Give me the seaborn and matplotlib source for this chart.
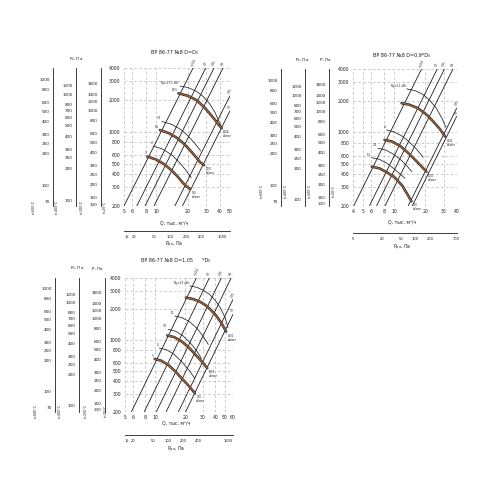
import matplotlib
matplotlib.use("Agg")
import matplotlib.pyplot as plt
import matplotlib.ticker as mticker
import pandas as pd
import seaborn as sns

# ---------------- values ----------------
P_TICKS = [200, 300, 400, 500, 600, 800, 1000, 2000, 3000, 4000]
P_LIM = (200, 4000)

# side pressure scales (t=600, 400, 200 C), ratio to the main P scale
SCALE_FACTORS = [0.32, 0.44, 0.625]
SCALE_TICKS = [
    [70, 100, 200, 250, 300, 400, 500, 600, 800, 1000],
    [100, 200, 250, 300, 400, 500, 600, 700, 800, 1000, 1200],
    [130, 150, 200, 250, 300, 400, 500, 600, 800, 1000, 1200, 1400, 1800],
]
SCALE_MINOR = [
    [80, 90, 120, 140, 160, 180, 350, 450, 700, 900],
    [90, 120, 140, 160, 180, 350, 450, 900, 1100, 1400, 1600],
    [140, 170, 180, 350, 450, 700, 900, 1100, 1300, 1600, 2000, 2200],
]
SCALE_T_LABELS = ["t=600°C", "t=400°C", "t=200°C", "t=20°C"]

# panel 1: D = D0
P1_TITLE = "ВР 86-77 №8 D=D₀"
P1_Q_LIM = (5, 50)
P1_Q_TICKS = [5, 6, 8, 10, 20, 30, 40, 50]
P1_PD_LIM = (13, 1400)
P1_PD_TICKS = [15, 20, 50, 100, 200, 400, 1000]
P1_RAY_Q0 = [5.0, 6.6, 7.9, 9.6, 15.1, 17.8]
P1_RAY_Q1 = [22.4, 29.5, 35.3, 42.9, 50, 50]
P1_RAY_P1 = [4000, 4000, 4000, 4000, 2190, 1580]
P1_RAY_LABELS = ["η=0,6", "0,7", "0,75", "0,8", "0,75", "0,7"]
P1_FAN_Q = [[16.3, 20, 24, 28, 32, 36, 39, 41.8],
            [10.9, 13.3, 16, 18.7, 21.3, 24, 26, 28.5],
            [8.3, 10, 12, 14, 16, 18, 19.5, 21]]
P1_FAN_P = [[2310, 2190, 2000, 1740, 1500, 1300, 1170, 1080],
            [1040, 970, 870, 760, 660, 575, 520, 485],
            [585, 550, 495, 435, 380, 330, 305, 290]]
P1_FAN_LABELS = ["18,5", "5,5", "3"]
P1_RPM = ["1500", "1000", "750"]
P1_THIN_Q = [[16.9, 20, 24, 28, 32, 36, 41],
             [11.4, 14, 17, 20, 23, 26.5],
             [9.4, 11.5, 14, 16.5, 19, 21.5]]
P1_THIN_P = [[2700, 2620, 2420, 2150, 1850, 1530, 1150],
             [1250, 1180, 1060, 920, 790, 660],
             [735, 690, 610, 520, 440, 370]]
P1_THIN_LABELS = ["Nу=17,5 кВт", "7,5", "4"]

# panel 2: D = 0,9*D0
P2_TITLE = "ВР 86-77 №8 D=0,9*D₀"
P2_Q_LIM = (4, 40)
P2_Q_TICKS = [4, 5, 6, 8, 10, 20, 30, 40]
P2_PD_LIM = (5, 720)
P2_PD_TICKS = [5, 20, 50, 100, 200, 700]
P2_RAY_Q0 = [4.1, 5.8, 6.8, 8.2, 13.7, 15.0]
P2_RAY_Q1 = [18.3, 25.9, 30.4, 36.7, 40, 40]
P2_RAY_P1 = [4000, 4000, 4000, 4000, 1705, 1422]
P2_RAY_LABELS = ["η=0,6", "0,7", "0,75", "0,8", "0,75", "0,7"]
P2_FAN_Q = [[11.8, 14, 17, 20.5, 24, 27.5, 30.9],
            [8.1, 9.5, 11.5, 13.6, 16, 18.5, 20.5],
            [6.1, 7.2, 8.6, 10.2, 12, 13.5, 14.7]]
P2_FAN_P = [[1900, 1840, 1700, 1480, 1260, 1080, 915],
            [850, 820, 740, 640, 545, 470, 422],
            [471, 455, 415, 370, 310, 255, 220]]
P2_FAN_LABELS = ["", "", ""]
P2_RPM = ["1500", "1000", "750"]
P2_THIN_Q = [[13.2, 16, 19, 22, 25.5, 29, 31.5],
             [8.5, 10, 12, 14, 16.5, 19],
             [7.0, 8.3, 10, 11.8, 13.5, 14.8],
             [6.1, 7.2, 8.6, 10, 11.5, 12.7]]
P2_THIN_P = [[2600, 2500, 2300, 2020, 1700, 1350, 1120],
             [1055, 1010, 920, 810, 690, 580],
             [706, 680, 615, 540, 470, 422],
             [574, 555, 505, 450, 400, 365]]
P2_THIN_LABELS = ["Nу=11 кВт", "4", "2,2", "1,5"]

# panel 3: D = 1,05*D0
P3_TITLE = "ВР 86-77 №8 D=1,05      *D₀"
P3_Q_LIM = (5, 60)
P3_Q_TICKS = [5, 6, 8, 10, 20, 30, 40, 50, 60]
P3_PD_LIM = (13.8, 2000)
P3_PD_TICKS = [15, 20, 50, 100, 200, 400, 1600]
P3_RAY_Q0 = [5.8, 7.8, 10.3, 12.9, 17.1, 20.2]
P3_RAY_Q1 = [25.9, 34.9, 46, 57.7, 60, 60]
P3_RAY_P1 = [4000, 4000, 4000, 4000, 2460, 1765]
P3_RAY_LABELS = ["η=0,6", "0,7", "0,75", "0,8", "0,75", "0,7"]
P3_FAN_Q = [[20.3, 24, 28, 32, 36, 41, 46, 51.3],
            [13.2, 15.5, 18.5, 22, 25.5, 29.5, 33.2],
            [9.9, 11.5, 13.5, 16, 18.5, 21.5, 25]]
P3_FAN_P = [[2565, 2480, 2340, 2160, 1950, 1700, 1450, 1200],
            [1100, 1060, 960, 830, 710, 610, 530],
            [650, 625, 570, 490, 420, 360, 302]]
P3_FAN_LABELS = ["", "", "3"]
P3_RPM = ["1500", "1000", "750"]
P3_THIN_Q = [[22.2, 26, 30, 35, 40, 45, 50, 53.5],
             [15.7, 18.5, 22, 26, 30, 34],
             [13.5, 16, 19, 22.5, 26, 29],
             [11, 13, 15.5, 18.5, 22, 25]]
P3_THIN_P = [[3330, 3230, 3040, 2750, 2400, 2030, 1640, 1310],
             [1700, 1640, 1500, 1300, 1090, 900],
             [1260, 1210, 1090, 930, 780, 660],
             [830, 800, 720, 610, 500, 420]]
P3_THIN_LABELS = ["Nу=22 кВт", "11", "7,5", "4"]

# ---------------- drawing ----------------
sns.set_theme(style="white")
plt.rcParams["font.family"] = ["DejaVu Sans"]

W, H = 500, 500
BROWN = "#a0643c"
INK = "#1e1e1e"


def box(l, t, r, b):
    return [l / W, 1 - b / H, (r - l) / W, (b - t) / H]


def ftext(fig, x, y, s, **kw):
    fig.text(x / W, 1 - y / H, s, **kw)


def curves_df(qs, ps):
    rows = []
    for i, (q, p) in enumerate(zip(qs, ps)):
        rows += [{"curve": i, "Q": a, "P": b} for a, b in zip(q, p)]
    return pd.DataFrame(rows)


def draw_lines(ax, df, color, lw):
    sns.lineplot(data=df, x="Q", y="P", units="curve", estimator=None,
                 sort=False, color=color, linewidth=lw, ax=ax, legend=False)


def side_scale(fig, x, top, bottom, lims, ticks, minor):
    sax = fig.add_axes(box(x, top, x + 0.3, bottom))
    sax.set_yscale("log")
    sax.set_ylim(lims)
    for k in ["top", "right", "bottom"]:
        sax.spines[k].set_visible(False)
    sax.spines["left"].set_linewidth(0.6)
    sax.spines["left"].set_color(INK)
    sax.set_xticks([])
    sax.set_yticks(ticks)
    sax.set_yticklabels([str(v) for v in ticks])
    sax.set_yticks(minor, minor=True)
    sax.yaxis.set_minor_formatter(mticker.NullFormatter())
    sax.tick_params(which="major", direction="inout", length=3, width=0.5,
                    labelsize=3, pad=1, colors=INK)
    sax.tick_params(which="minor", direction="inout", length=2, width=0.4, colors=INK)
    sax.patch.set_visible(False)


def pd_scale(fig, l, r, y, lims, ticks):
    dax = fig.add_axes(box(l, y - 0.3, r, y))
    dax.set_xscale("log")
    dax.set_xlim(lims)
    for k in ["top", "right", "left"]:
        dax.spines[k].set_visible(False)
    dax.spines["bottom"].set_linewidth(0.6)
    dax.spines["bottom"].set_color(INK)
    dax.set_yticks([])
    dax.set_xticks(ticks)
    dax.set_xticklabels([str(v) for v in ticks])
    dax.xaxis.set_minor_locator(mticker.LogLocator(base=10, subs=range(1, 10)))
    dax.xaxis.set_minor_formatter(mticker.NullFormatter())
    dax.tick_params(which="major", direction="inout", length=3.5, width=0.5,
                    labelsize=2.6, pad=1, colors=INK)
    dax.tick_params(which="minor", direction="inout", length=2, width=0.4, colors=INK)
    dax.patch.set_visible(False)


def draw_panel(fig, sp):
    l, t, r, b = sp["main"]
    ax = fig.add_axes(box(l, t, r, b))
    ax.set_xscale("log")
    ax.set_yscale("log")

    rq0, rq1, rp1, rlab = sp["rays"]
    ray_q = [[a, c] for a, c in zip(rq0, rq1)]
    ray_p = [[P_LIM[0], c] for c in rp1]
    draw_lines(ax, curves_df(ray_q, ray_p), INK, 0.6)

    tq, tp, tlab = sp["thin"]
    draw_lines(ax, curves_df(tq, tp), INK, 0.55)

    fq, fp, flab, rpm = sp["fan"]
    fan = curves_df(fq, fp)
    draw_lines(ax, fan, "#1a1a1a", 1.8)
    draw_lines(ax, fan, BROWN, 1.0)

    ax.set_xlim(sp["qlim"])
    ax.set_ylim(P_LIM)
    ax.set_xlabel("")
    ax.set_ylabel("")
    for s in ax.spines.values():
        s.set_visible(False)
    ax.set_xticks(sp["qticks"])
    ax.set_xticklabels([str(v) for v in sp["qticks"]])
    ax.set_yticks(P_TICKS)
    ax.set_yticklabels([str(v) for v in P_TICKS])
    ax.xaxis.set_minor_locator(mticker.NullLocator())
    ax.yaxis.set_minor_locator(mticker.NullLocator())
    ax.tick_params(which="major", labelsize=3.3, length=1.5, width=0.4,
                   color="#777777", labelcolor=INK, pad=1)
    ax.grid(True, which="major", color="#b8b8b8", linewidth=0.5, linestyle=(0, (4, 3)))
    ax.set_axisbelow(True)

    # efficiency ray labels
    for q, p, s in zip(rq1, rp1, rlab):
        ax.annotate(s, xy=(q, p), xytext=(0.5, 1), textcoords="offset points",
                    rotation=63, rotation_mode="anchor", ha="left", va="bottom",
                    fontsize=2, color=INK, annotation_clip=False)
    # power labels at curve starts
    for q, p, s in zip(tq, tp, tlab):
        ax.annotate(s, xy=(q[0], p[0]), xytext=(-0.5, 0.8), textcoords="offset points",
                    ha="right", va="bottom", fontsize=2, color=INK)
    for q, p, s in zip(fq, fp, flab):
        if s:
            ax.annotate(s, xy=(q[0], p[0]), xytext=(-0.5, 0.8), textcoords="offset points",
                        ha="right", va="bottom", fontsize=2, color=INK)
    # rpm labels at curve ends
    for q, p, s in zip(fq, fp, rpm):
        ax.annotate(s + "\nоб/мин", xy=(q[-1], p[-1]), xytext=(1, -1.5),
                    textcoords="offset points", ha="left", va="top", fontsize=1.8,
                    linespacing=1.0, color=INK, annotation_clip=False)

    # side scales
    for x, f, ticks, minor in zip(sp["scales_x"], SCALE_FACTORS, SCALE_TICKS, SCALE_MINOR):
        side_scale(fig, x, t, b, (P_LIM[0] * f, P_LIM[1] * f), ticks, minor)
    for x, s in zip(list(sp["scales_x"]) + [l], SCALE_T_LABELS):
        ftext(fig, x - 19, sp["tlab_y"], s, rotation=90, ha="center", va="center",
              fontsize=2.3, color=INK)
    for x, s in sp["headers"]:
        ftext(fig, x, t - 9, s, ha="center", va="center", fontsize=3, color=INK)

    # dynamic pressure scale
    pdlim, pdticks, pdy = sp["pd"]
    pd_scale(fig, l, r, pdy, pdlim, pdticks)

    cx = (l + r) / 2 - 3
    ftext(fig, cx, sp["title_y"], sp["title"], ha="center", va="center",
          fontsize=3.5, color=INK)
    ftext(fig, cx, sp["qlabel_y"], "Q, тыс. м³/ч", ha="center", va="center",
          fontsize=3.3, color=INK)
    ftext(fig, cx, sp["pdlabel_y"], "P$_\\mathregular{дн}$, Па", ha="center",
          va="center", fontsize=3.3, color=INK)


PANELS = [
    dict(main=(124, 68, 230, 206), qlim=P1_Q_LIM, qticks=P1_Q_TICKS,
         rays=(P1_RAY_Q0, P1_RAY_Q1, P1_RAY_P1, P1_RAY_LABELS),
         thin=(P1_THIN_Q, P1_THIN_P, P1_THIN_LABELS),
         fan=(P1_FAN_Q, P1_FAN_P, P1_FAN_LABELS, P1_RPM),
         scales_x=(53, 76, 101), tlab_y=207,
         headers=[(76, "P$_\\mathregular{v}$, Па")],
         pd=(P1_PD_LIM, P1_PD_TICKS, 230.7),
         title=P1_TITLE, title_y=53, qlabel_y=223, pdlabel_y=244),
    dict(main=(352.7, 69.3, 456.7, 205.7), qlim=P2_Q_LIM, qticks=P2_Q_TICKS,
         rays=(P2_RAY_Q0, P2_RAY_Q1, P2_RAY_P1, P2_RAY_LABELS),
         thin=(P2_THIN_Q, P2_THIN_P, P2_THIN_LABELS),
         fan=(P2_FAN_Q, P2_FAN_P, P2_FAN_LABELS, P2_RPM),
         scales_x=(281, 305, 329), tlab_y=191,
         headers=[(302, "P$_\\mathregular{v}$, Па"), (325, "P, Па")],
         pd=(P2_PD_LIM, P2_PD_TICKS, 232.7),
         title=P2_TITLE, title_y=55, qlabel_y=222, pdlabel_y=247),
    dict(main=(125, 277.7, 233, 411.7), qlim=P3_Q_LIM, qticks=P3_Q_TICKS,
         rays=(P3_RAY_Q0, P3_RAY_Q1, P3_RAY_P1, P3_RAY_LABELS),
         thin=(P3_THIN_Q, P3_THIN_P, P3_THIN_LABELS),
         fan=(P3_FAN_Q, P3_FAN_P, P3_FAN_LABELS, P3_RPM),
         scales_x=(55, 79, 105), tlab_y=411,
         headers=[(77, "P$_\\mathregular{v}$, Па"), (97, "P, Па")],
         pd=(P3_PD_LIM, P3_PD_TICKS, 435),
         title=P3_TITLE, title_y=260, qlabel_y=423, pdlabel_y=449),
]

fig = plt.figure(figsize=(5, 5), dpi=100)
fig.patch.set_facecolor("white")
for spec in PANELS:
    draw_panel(fig, spec)

fig.savefig("out.png", dpi=100, facecolor="white")
